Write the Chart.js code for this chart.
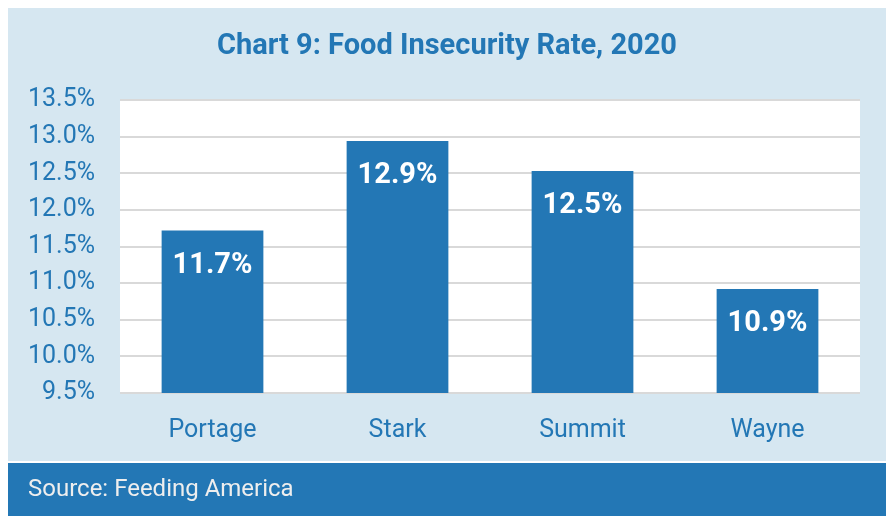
<!DOCTYPE html>
<html>
<head>
<meta charset="utf-8">
<script src="https://cdn.jsdelivr.net/npm/chart.js@4"></script>
<style>
  html, body { margin: 0; padding: 0; background: #ffffff; }
  #wrap { width: 890px; height: 516px; }
  canvas { display: block; }
</style>
</head>
<body>
<div id="wrap"><canvas id="c" width="890" height="516"></canvas></div>
<script>
const categories = ['Portage', 'Stark', 'Summit', 'Wayne'];
const rates = [11.72, 12.94, 12.53, 10.92];
const yTicks = [9.5, 10.0, 10.5, 11.0, 11.5, 12.0, 12.5, 13.0, 13.5];
const titleText = 'Chart 9: Food Insecurity Rate, 2020';
const sourceText = 'Source: Feeding America';

const BLUE = '#2377B5';
const PANEL = '#D6E7F1';
const FONT = 'Roboto, "Noto Sans", sans-serif';

const backgroundPlugin = {
  id: 'bg',
  beforeDraw(chart) {
    const ctx = chart.ctx;
    const a = chart.chartArea;
    ctx.save();
    ctx.fillStyle = '#ffffff';
    ctx.fillRect(0, 0, chart.width, chart.height);
    ctx.fillStyle = PANEL;
    ctx.fillRect(8, 8, 878, 453);
    ctx.fillStyle = BLUE;
    ctx.fillRect(8, 463, 878, 53);
    ctx.fillStyle = '#ffffff';
    ctx.fillRect(a.left, a.top, a.right - a.left, a.bottom - a.top);
    ctx.restore();
  },
  afterDraw(chart) {
    const ctx = chart.ctx;
    ctx.save();
    ctx.fillStyle = BLUE;
    ctx.font = 'bold 29px ' + FONT;
    ctx.textAlign = 'center';
    ctx.textBaseline = 'middle';
    ctx.fillText(titleText, 447, 47);
    ctx.fillStyle = '#EEEEEE';
    ctx.font = '24px ' + FONT;
    ctx.textAlign = 'left';
    ctx.fillText(sourceText, 28, 490);
    ctx.restore();
  }
};

const labelPlugin = {
  id: 'barLabels',
  afterDatasetsDraw(chart) {
    const ctx = chart.ctx;
    const meta = chart.getDatasetMeta(0);
    ctx.save();
    ctx.fillStyle = '#ffffff';
    ctx.font = 'bold 29px ' + FONT;
    ctx.textAlign = 'center';
    ctx.textBaseline = 'middle';
    meta.data.forEach((bar, i) => {
      ctx.fillText(rates[i].toFixed(1) + '%', bar.x, bar.y + 35);
    });
    ctx.restore();
  }
};

new Chart(document.getElementById('c'), {
  type: 'bar',
  data: {
    labels: categories,
    datasets: [{
      data: rates,
      backgroundColor: BLUE,
      borderWidth: 0,
      categoryPercentage: 1.0,
      barPercentage: 0.55
    }]
  },
  options: {
    responsive: false,
    devicePixelRatio: 1,
    animation: false,
    layout: { padding: { left: 8, right: 30, top: 100, bottom: 0 } },
    plugins: {
      legend: { display: false },
      tooltip: { enabled: false },
      title: { display: false }
    },
    scales: {
      x: {
        grid: { display: false, drawTicks: false },
        border: { display: false },
        ticks: { color: BLUE, font: { family: FONT, size: 25 }, padding: 23 },
        afterFit(s) { s.height = 123; }
      },
      y: {
        min: 9.5,
        max: 13.5,
        afterBuildTicks(s) { s.ticks = yTicks.map(v => ({ value: v })); },
        grid: { color: '#D9D9D9', lineWidth: 2, drawTicks: false },
        border: { display: false },
        ticks: {
          color: BLUE,
          font: { family: FONT, size: 25 },
          padding: 25,
          callback: v => Number(v).toFixed(1) + '%'
        },
        afterFit(s) { s.width = 112; }
      }
    }
  },
  plugins: [backgroundPlugin, labelPlugin]
});
</script>
</body>
</html>
